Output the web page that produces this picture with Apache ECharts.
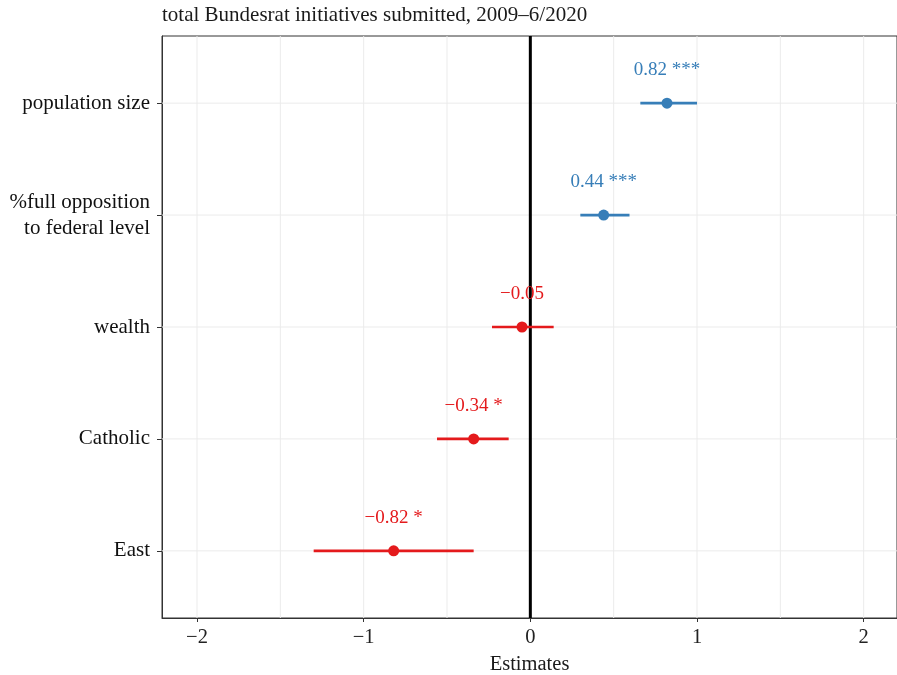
<!DOCTYPE html>
<html><head><meta charset="utf-8">
<script src="https://cdn.jsdelivr.net/npm/echarts@6/dist/echarts.min.js"></script>
<style>html,body{margin:0;padding:0;background:#fff}#c{width:897px;height:675px}</style>
</head><body><div id="c"></div>
<script>
const categories = ['population size', '%full opposition\nto federal level', 'wealth', 'Catholic', 'East'];
const estimates = [0.82, 0.44, -0.05, -0.34, -0.82];
const ciLow = [0.66, 0.30, -0.23, -0.56, -1.30];
const ciHigh = [1.00, 0.595, 0.14, -0.13, -0.34];
const stars = ['***', '***', '', '*', '*'];
const xTickValues = [-2, -1, 0, 1, 2];
const xGridValues = [-2, -1.5, -1, -0.5, 0, 0.5, 1, 1.5, 2];
const yPositions = [1, 2, 3, 4, 5];

const FONT = '"Liberation Serif", "DejaVu Serif", serif';
const BLUE = '#377EB8', RED = '#E41A1C';
const fmtNum = v => (v < 0 ? '\u2212' : '') + Math.abs(v).toFixed(2);
const XMIN = -2.21, XMAX = 2.2, YMIN = 0.4, YMAX = 5.6;

const pointData = estimates.map((e, i) => [e, yPositions[i], ciLow[i], ciHigh[i], i]);

const chart = echarts.init(document.getElementById('c'));
chart.setOption({
  animation: false,
  title: {
    text: 'total Bundesrat initiatives submitted, 2009\u20136/2020',
    left: 162, top: 5, padding: 0,
    textStyle: {fontFamily: FONT, fontSize: 21, fontWeight: 'normal', color: '#1a1a1a'}
  },
  grid: {left: 162, right: 0, top: 36, bottom: 57, outerBoundsMode: 'none', containLabel: false, show: true, borderColor: '#333', borderWidth: 1, backgroundColor: 'transparent'},
  xAxis: {
    type: 'value', min: XMIN, max: XMAX,
    name: 'Estimates', nameLocation: 'middle', nameGap: 36,
    nameTextStyle: {fontFamily: FONT, fontSize: 20.5, color: '#1a1a1a'},
    axisLine: {show: true, onZero: false, lineStyle: {color: '#333', width: 1}},
    axisTick: {show: true, customValues: xTickValues, length: 4, lineStyle: {color: '#333'}},
    axisLabel: {customValues: xTickValues, formatter: v => (v < 0 ? '\u2212' : '') + Math.abs(v), fontFamily: FONT, fontSize: 20.5, color: '#222', margin: 9},
    splitLine: {show: false}
  },
  yAxis: {
    type: 'value', min: YMIN, max: YMAX, inverse: true,
    axisLine: {show: true, onZero: false, lineStyle: {color: '#333', width: 1}},
    axisTick: {show: true, customValues: yPositions, length: 5, lineStyle: {color: '#333'}},
    axisLabel: {customValues: yPositions, formatter: v => categories[Math.round(v) - 1], fontFamily: FONT, fontSize: 21, color: '#111', align: 'right', lineHeight: 26, margin: 12},
    splitLine: {show: false}
  },
  series: [
    {
      type: 'custom', silent: true, z: 1,
      data: xGridValues.map(v => [v]),
      renderItem: (params, api) => {
        const v = api.value(0);
        const p1 = api.coord([v, YMIN]), p2 = api.coord([v, YMAX]);
        return {type: 'line', shape: {x1: p1[0], y1: p1[1], x2: p2[0], y2: p2[1]}, style: {stroke: '#EBEBEB', lineWidth: 1}};
      }
    },
    {
      type: 'custom', silent: true, z: 1,
      data: yPositions.map(v => [v]),
      renderItem: (params, api) => {
        const v = api.value(0);
        const p1 = api.coord([XMIN, v]), p2 = api.coord([XMAX, v]);
        return {type: 'line', shape: {x1: p1[0], y1: p1[1], x2: p2[0], y2: p2[1]}, style: {stroke: '#EBEBEB', lineWidth: 1}};
      }
    },
    {
      type: 'custom', silent: true, z: 2,
      data: [[0]],
      renderItem: (params, api) => {
        const p1 = api.coord([0, YMIN]), p2 = api.coord([0, YMAX]);
        return {type: 'line', shape: {x1: p1[0], y1: p1[1], x2: p2[0], y2: p2[1]}, style: {stroke: '#000', lineWidth: 3}};
      }
    },
    {
      type: 'custom', z: 3,
      data: pointData,
      renderItem: (params, api) => {
        const est = api.value(0), y = api.value(1), lo = api.value(2), hi = api.value(3), i = api.value(4);
        const c = est >= 0 ? BLUE : RED;
        const pLo = api.coord([lo, y]), pHi = api.coord([hi, y]), p = api.coord([est, y]);
        const label = fmtNum(est) + (stars[i] ? ' ' + stars[i] : '');
        return {
          type: 'group',
          children: [
            {type: 'line', shape: {x1: pLo[0], y1: pLo[1], x2: pHi[0], y2: pHi[1]}, style: {stroke: c, lineWidth: 2.6}},
            {type: 'circle', shape: {cx: p[0], cy: p[1], r: 5.5}, style: {fill: c}},
            {type: 'text', x: p[0], y: p[1] - 33, style: {text: label, fill: c, font: '19px ' + FONT, align: 'center', verticalAlign: 'middle'}}
          ]
        };
      }
    }
  ]
});
</script></body></html>
